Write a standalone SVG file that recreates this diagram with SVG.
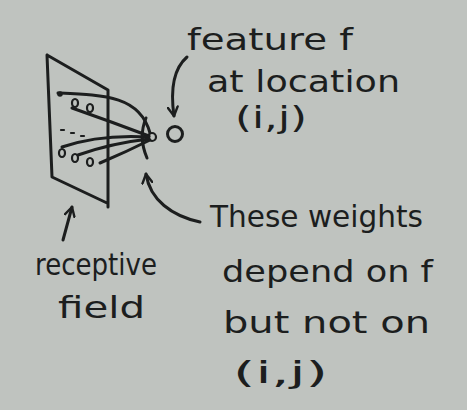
<svg xmlns="http://www.w3.org/2000/svg" width="467" height="410" viewBox="0 0 467 410">
<style>
.ink{fill:none;stroke:#1c1e1e;stroke-width:3;stroke-linecap:round;stroke-linejoin:round}
.thin{fill:none;stroke:#1c1e1e;stroke-width:2.2;stroke-linecap:round}
.t{font-family:"DejaVu Sans","Liberation Sans",sans-serif;fill:#1c1e1e;font-size:30px}
</style>
<defs>
<marker id="ah" viewBox="0 0 12 12" refX="10" refY="6" markerWidth="12" markerHeight="12" markerUnits="userSpaceOnUse" orient="auto">
<path d="M1,1 L10,6 L1,11" fill="none" stroke="#1c1e1e" stroke-width="2.4" stroke-linecap="round" stroke-linejoin="round"/>
</marker>
</defs>
<rect width="467" height="410" fill="#bfc3bf"/>
<g id="receptive-field">
<path class="ink" d="M47,55 L108,90 L108,207 M47,55 L52,177 L107,203"/>
<circle cx="60" cy="94" r="2.8" fill="#1c1e1e"/>
<ellipse cx="75" cy="103" rx="3" ry="4" class="thin"/>
<ellipse cx="90" cy="108" rx="3" ry="4" class="thin"/>
<path class="thin" d="M61,130 L64,130 M71,133 L74,133 M81,136 L84,136"/>
<ellipse cx="62" cy="153" rx="3" ry="4" class="thin"/>
<ellipse cx="75" cy="158" rx="3" ry="4" class="thin"/>
<ellipse cx="90" cy="162" rx="3" ry="4" class="thin"/>
</g>
<g id="target">
<circle cx="152" cy="137" r="4" class="thin"/>
</g>
<g id="neuron">
<circle cx="175" cy="134" r="7.5" class="ink"/>
</g>
<g id="connectors">
<path class="ink" d="M58,93 C105,95 140,96 150,133"/>
<path class="ink" d="M72,108 Q112,122 149,136"/>
<path class="ink" d="M62,147 Q100,134 149,137"/>
<path class="ink" d="M78,155 Q112,143 149,139"/>
<path class="ink" d="M100,163 Q126,152 150,140"/>
<path class="ink" d="M146,118 Q138,137 147,158"/>
<path class="ink" d="M187,57 C172,70 171,95 174,116" marker-end="url(#ah)"/>
<path class="ink" d="M200,222 C172,216 150,200 146,174" marker-end="url(#ah)"/>
<path class="ink" d="M63,240 L72,207" marker-end="url(#ah)"/>
</g>
<g id="labels">
<text class="t" x="187" y="50" textLength="166" lengthAdjust="spacingAndGlyphs" font-size="32">feature f</text>
<text class="t" x="207" y="92" textLength="193" lengthAdjust="spacingAndGlyphs">at location</text>
<text class="t" x="235" y="128" textLength="72" lengthAdjust="spacingAndGlyphs">(i,j)</text>
<text class="t" x="210" y="227" textLength="213" lengthAdjust="spacingAndGlyphs" font-size="32">These weights</text>
<text class="t" x="222" y="282" textLength="211" lengthAdjust="spacingAndGlyphs">depend on f</text>
<text class="t" x="223" y="333" textLength="207" lengthAdjust="spacingAndGlyphs">but not on</text>
<text class="t" x="233" y="383" textLength="95" lengthAdjust="spacingAndGlyphs" font-size="34">(i,j)</text>
<text class="t" x="35" y="275" textLength="122" lengthAdjust="spacingAndGlyphs" font-size="31">receptive</text>
<text class="t" x="58" y="318" textLength="87" lengthAdjust="spacingAndGlyphs" font-size="33">field</text>
</g>
</svg>
